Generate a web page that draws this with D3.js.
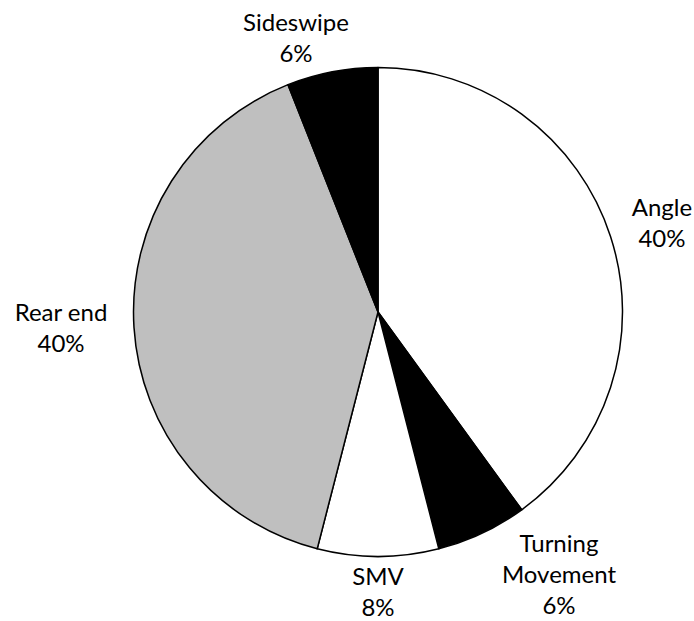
<!DOCTYPE html>
<html>
<head>
<meta charset="utf-8">
<script src="https://cdn.jsdelivr.net/npm/d3@7"></script>
<style>
  html, body { margin: 0; padding: 0; background: #fff; }
  svg { display: block; }
  text { font-family: Lato, "Open Sans", sans-serif; fill: #000; }
</style>
</head>
<body>
<svg id="chart" width="694" height="621"></svg>
<script>
// Data
const categories = ["Angle", "Turning Movement", "SMV", "Rear end", "Sideswipe"];
const labelLines = [["Angle"], ["Turning", "Movement"], ["SMV"], ["Rear end"], ["Sideswipe"]];
const values = [40, 6, 8, 40, 6];
const fills = ["#ffffff", "#000000", "#ffffff", "#bfbfbf", "#000000"];

// Layout
const W = 694, H = 621;
const cx = 378, cy = 312, R = 244.5;
// label block centre offsets (dx, dy) from pie centre
const labelOffsets = [[284, -89], [181, 263], [0, 280], [-317, 16], [-82, -274]];
const fontSize = 24, lineH = 31;

const svg = d3.select("#chart");
const g = svg.append("g").attr("transform", `translate(${cx},${cy})`);

const pie = d3.pie().sort(null).value(d => d.value);
const arcs = pie(values.map((v, i) => ({ value: v, i })));
const arc = d3.arc().innerRadius(0).outerRadius(R);

g.selectAll("path.slice")
  .data(arcs)
  .join("path")
  .attr("class", "slice")
  .attr("d", arc)
  .attr("fill", d => fills[d.data.i])
  .attr("stroke", "#000")
  .attr("stroke-width", 1.5)
  .attr("stroke-linejoin", "round");

const fmt = d3.format(".0%");
const total = d3.sum(values);

const labels = g.selectAll("text.lbl")
  .data(arcs)
  .join("text")
  .attr("class", "lbl")
  .attr("text-anchor", "middle")
  .attr("font-size", fontSize);

labels.each(function(d) {
  const i = d.data.i;
  const lines = labelLines[i].concat([fmt(values[i] / total)]);
  const [dx, dy] = labelOffsets[i];
  const n = lines.length;
  const top = dy - (n - 1) * lineH / 2;
  d3.select(this).selectAll("tspan")
    .data(lines)
    .join("tspan")
    .attr("x", dx)
    .attr("y", (l, k) => top + k * lineH)
    .attr("dy", "0.35em")
    .text(l => l);
});
</script>
</body>
</html>
